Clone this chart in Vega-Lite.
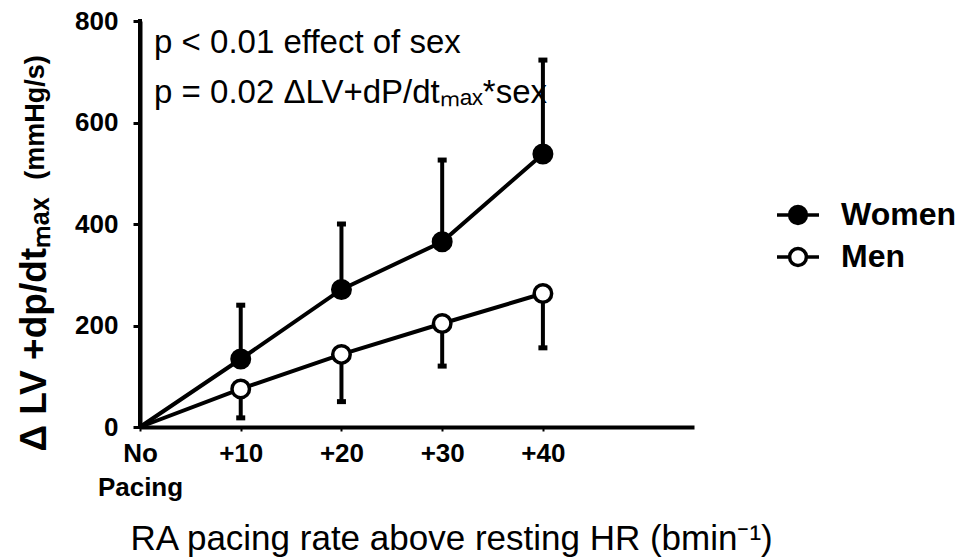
{
  "$schema": "https://vega.github.io/schema/vega-lite/v6.json",
  "width": 554,
  "height": 406,
  "autosize": {"type": "none"},
  "padding": {"left": 140, "top": 21, "right": 269, "bottom": 130},
  "background": "white",
  "config": {"view": {"stroke": null}, "font": "Liberation Sans"},
  "datasets": {
    "means": [
      {"rate": 0, "sex": "Women", "mean": 0},
      {"rate": 10, "sex": "Women", "mean": 134},
      {"rate": 20, "sex": "Women", "mean": 271},
      {"rate": 30, "sex": "Women", "mean": 365},
      {"rate": 40, "sex": "Women", "mean": 538},
      {"rate": 0, "sex": "Men", "mean": 0},
      {"rate": 10, "sex": "Men", "mean": 75},
      {"rate": 20, "sex": "Men", "mean": 143},
      {"rate": 30, "sex": "Men", "mean": 204},
      {"rate": 40, "sex": "Men", "mean": 263}
    ],
    "err": [
      {"rate": 10, "sex": "Women", "mean": 134, "bar_end": 240},
      {"rate": 20, "sex": "Women", "mean": 271, "bar_end": 400},
      {"rate": 30, "sex": "Women", "mean": 365, "bar_end": 526},
      {"rate": 40, "sex": "Women", "mean": 538, "bar_end": 723},
      {"rate": 10, "sex": "Men", "mean": 75, "bar_end": 18},
      {"rate": 20, "sex": "Men", "mean": 143, "bar_end": 50},
      {"rate": 30, "sex": "Men", "mean": 204, "bar_end": 120},
      {"rate": 40, "sex": "Men", "mean": 263, "bar_end": 156}
    ],
    "axisline": [
      {"rate": 0, "lo": 0, "hi": 800}
    ],
    "notes": [
      {"x": 1.4, "y": 737, "label": "p < 0.01 effect of sex"},
      {"x": 1.4, "y": 638, "label": "p = 0.02 ΔLV+dP/dtₘₐₓ*sex"}
    ]
  },
  "resolve": {"scale": {"y": "independent"}, "axis": {"y": "independent"}},
  "layer": [
    {
      "layer": [
        {
          "data": {"name": "err"},
          "mark": {"type": "rule", "strokeWidth": 4, "color": "black"},
          "encoding": {
            "x": {
              "field": "rate", "type": "quantitative",
              "scale": {"domain": [0, 52]},
              "axis": {
                "values": [0, 10, 20, 30, 40],
                "labelExpr": "datum.value == 0 ? ['No', 'Pacing'] : '+' + datum.value",
                "grid": false, "domain": true,
                "domainColor": "black", "domainWidth": 4,
                "tickColor": "black", "tickWidth": 2, "tickSize": 4,
                "labelFont": "Liberation Sans", "labelFontSize": 26, "labelFontWeight": "bold",
                "labelColor": "black", "labelPadding": 9, "labelLineHeight": 34,
                "labelOverlap": false, "labelBound": false, "labelFlush": false,
                "title": "RA pacing rate above resting HR (bmin⁻¹)",
                "titleFont": "Liberation Sans", "titleFontSize": 35, "titleFontWeight": "normal",
                "titleColor": "black", "titleX": -10, "titleY": 111,
                "titleAlign": "left", "titleBaseline": "middle", "titleAnchor": null
              }
            },
            "y": {
              "field": "mean", "type": "quantitative",
              "scale": {"domain": [0, 800]},
              "axis": {
                "values": [0, 200, 400, 600, 800],
                "grid": false, "domain": true,
                "domainColor": "black", "domainWidth": 4,
                "tickColor": "black", "tickWidth": 3, "tickSize": 7,
                "labelFont": "Liberation Sans", "labelFontSize": 26, "labelFontWeight": "bold",
                "labelColor": "black", "labelPadding": 15,
                "title": "Δ LV +dp/dtₘₐₓ",
                "titleFont": "Liberation Sans", "titleFontSize": 37, "titleFontWeight": "bold",
                "titleColor": "black", "titleX": -95, "titleY": 303, "titleAngle": -90,
                "titleAlign": "center", "titleBaseline": "alphabetic", "titleAnchor": null
              }
            },
            "y2": {"field": "bar_end"}
          }
        },
        {
          "data": {"name": "axisline"},
          "mark": {"type": "rule", "strokeWidth": 4, "color": "black", "strokeCap": "square"},
          "encoding": {
            "x": {"field": "rate", "type": "quantitative"},
            "y": {"field": "lo", "type": "quantitative"},
            "y2": {"field": "hi"}
          }
        },
        {
          "data": {"name": "err"},
          "mark": {"type": "tick", "orient": "horizontal", "size": 9, "thickness": 5, "color": "black", "opacity": 1},
          "encoding": {
            "x": {"field": "rate", "type": "quantitative"},
            "y": {"field": "bar_end", "type": "quantitative"}
          }
        },
        {
          "data": {"name": "means"},
          "mark": {"type": "line", "strokeWidth": 4, "color": "black"},
          "encoding": {
            "x": {"field": "rate", "type": "quantitative"},
            "y": {"field": "mean", "type": "quantitative"},
            "detail": {"field": "sex", "type": "nominal"}
          }
        },
        {
          "data": {"name": "means"},
          "transform": [{"filter": "datum.rate > 0"}],
          "mark": {"type": "point", "shape": "circle", "filled": true, "stroke": "black", "strokeWidth": 3.5, "size": 306, "opacity": 1},
          "encoding": {
            "x": {"field": "rate", "type": "quantitative"},
            "y": {"field": "mean", "type": "quantitative"},
            "fill": {
              "field": "sex", "type": "nominal",
              "scale": {"domain": ["Women", "Men"], "range": ["black", "white"]},
              "legend": {
                "title": null,
                "orient": "none",
                "legendX": 635,
                "legendY": 171,
                "padding": 0,
                "symbolType": "M -1 0 L -0.4 0 M 0.4 0 L 1 0 M -0.4 0 A 0.4 0.4 0 1 1 0.4 0 A 0.4 0.4 0 1 1 -0.4 0 Z",
                "symbolSize": 1764,
                "symbolStrokeWidth": 3.5,
                "symbolStrokeColor": "black",
                "labelFont": "Liberation Sans", "labelFontSize": 32, "labelFontWeight": "bold",
                "labelColor": "black", "labelOffset": 20, "labelLimit": 300,
                "rowPadding": 3,
                "encode": {
                  "symbols": {
                    "update": {
                      "stroke": {"value": "black"},
                      "strokeWidth": {"value": 3.5},
                      "opacity": {"value": 1}
                    }
                  }
                }
              }
            }
          }
        }
      ]
    },
    {
      "data": {"name": "notes"},
      "mark": {"type": "text", "align": "left", "baseline": "alphabetic", "fontSize": 33, "font": "Liberation Sans", "color": "black"},
      "encoding": {
        "x": {"field": "x", "type": "quantitative"},
        "y": {
          "field": "y", "type": "quantitative",
          "scale": {"domain": [0, 800]},
          "axis": {
            "orient": "left",
            "labels": false, "ticks": false, "domain": false, "grid": false,
            "title": "(mmHg/s)",
            "titleFont": "Liberation Sans", "titleFontSize": 27, "titleFontWeight": "bold",
            "titleColor": "black", "titleX": -97, "titleY": 96, "titleAngle": -90,
            "titleAlign": "center", "titleBaseline": "alphabetic", "titleAnchor": null
          }
        },
        "text": {"field": "label", "type": "nominal"}
      }
    }
  ]
}
